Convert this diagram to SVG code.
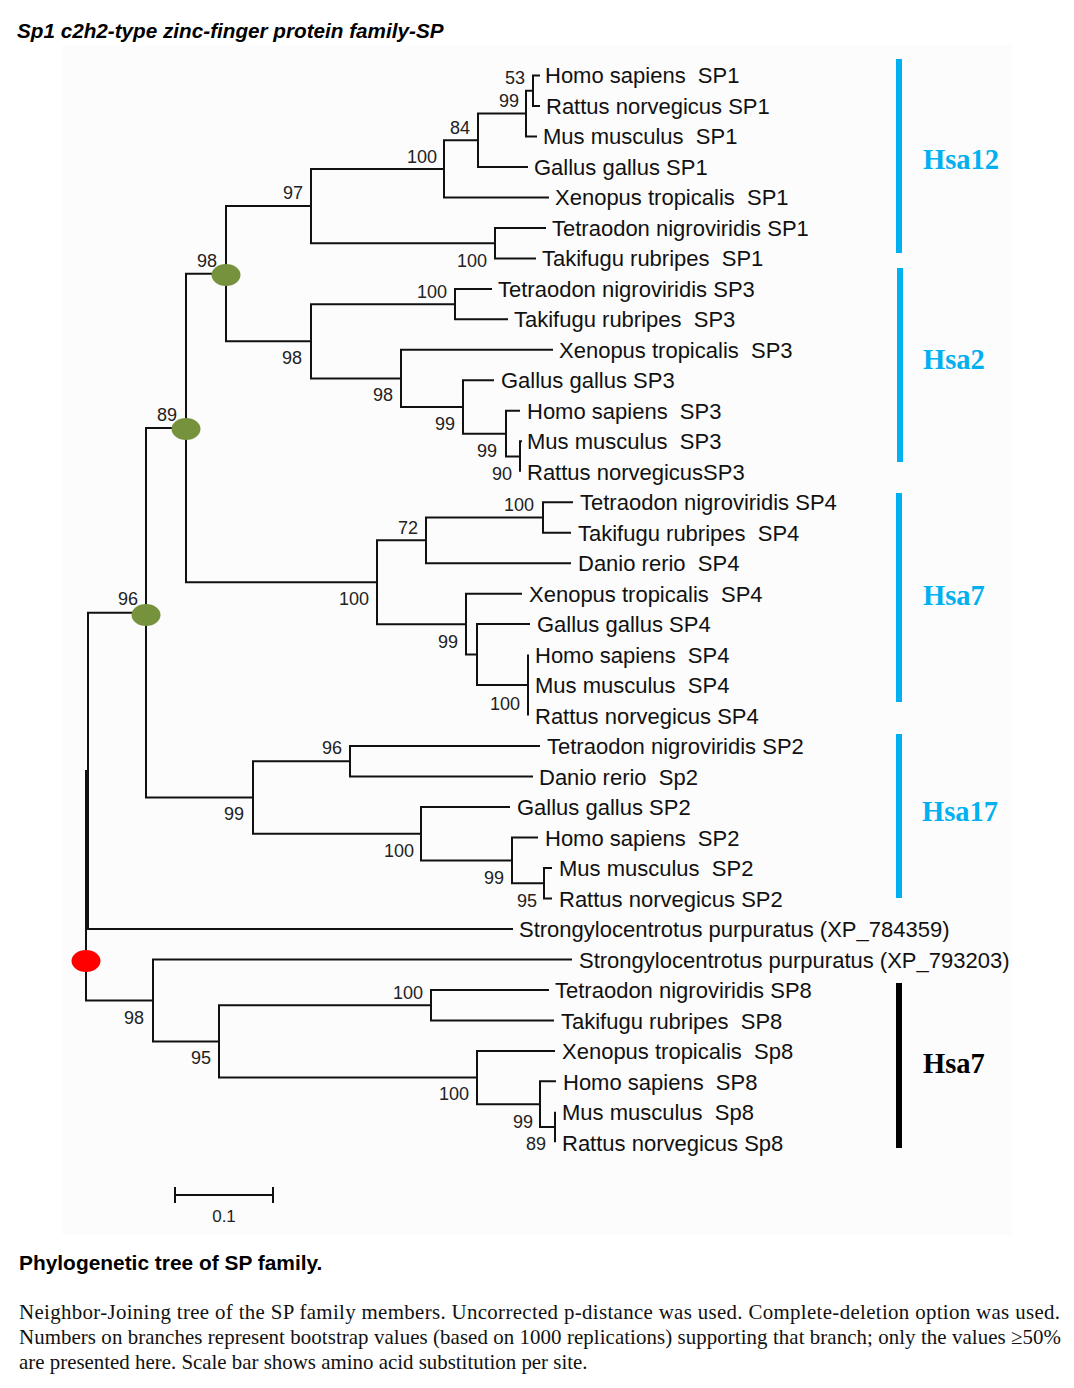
<svg xmlns="http://www.w3.org/2000/svg" width="1074" height="1388" viewBox="0 0 1074 1388">
<style>
.br{fill:none;stroke:#111;stroke-width:2}
.lf{font-family:"Liberation Sans",Arial,sans-serif;font-size:22px;fill:#111;white-space:pre}
.bs{font-family:"Liberation Sans",Arial,sans-serif;font-size:18px;fill:#222;text-anchor:end}
.hsa{font-family:"Liberation Serif","Times New Roman",serif;font-weight:bold;font-size:28.5px}
.blue{fill:#00b0f0}
.gn{fill:#76923c}
.cap{font-family:"Liberation Serif","Times New Roman",serif;font-size:20.9px;fill:#111}
</style>
<rect x="62" y="45" width="950" height="1190" fill="#fcfcfc"/>
<text x="17" y="38" font-family="Liberation Sans, Arial, sans-serif" font-size="20.7" font-weight="bold" font-style="italic" fill="#000">Sp1 c2h2-type zinc-finger protein family-SP</text>

<g id="connectors">
<path class="br" d="M540,75.5 H533 V106 H540"/>
<path class="br" d="M537,136.5 H526 V90.8 H533"/>
<path class="br" d="M528,167 H478 V113.6 H526"/>
<path class="br" d="M549,197.4 H444 V140.3 H478"/>
<path class="br" d="M546,228 H495 V258.4 H536"/>
<path class="br" d="M444,168.9 H311 V243.2 H495"/>
<path class="br" d="M311,206 H226 V341.3 H311"/>
<path class="br" d="M492,289 H455 V319.3 H508"/>
<path class="br" d="M455,304.2 H311 V378.4 H401"/>
<path class="br" d="M553,349.8 H401 V407 H463"/>
<path class="br" d="M494,380.3 H463 V433.7 H506"/>
<path class="br" d="M520,410.8 H506 V456.5 H520"/>
<path class="br" d="M522,441.3 H520 V471.7"/>
<path class="br" d="M226,273.7 H186 V582.3 H377"/>
<path class="br" d="M426,540.3 H377 V624.2 H466"/>
<path class="br" d="M543,517.5 H426 V563.2 H571"/>
<path class="br" d="M573,502.2 H543 V532.7 H571"/>
<path class="br" d="M522,593.7 H466 V654.6 H477"/>
<path class="br" d="M530,624.1 H477 V685.1 H528"/>
<path class="br" d="M528,654.6 V715.6"/>
<path class="br" d="M186,428 H146 V797.5 H253"/>
<path class="br" d="M350,761.3 H253 V833.7 H421"/>
<path class="br" d="M540,746.1 H350 V776.5 H533"/>
<path class="br" d="M510,807 H421 V860.4 H512"/>
<path class="br" d="M538,837.5 H512 V883.3 H544"/>
<path class="br" d="M552,868 H544 V898.5 H552"/>
<path class="br" d="M146,612.8 H88 V929 H513"/>
<path class="br" d="M88,770.9 H86 V1000.4 H153"/>
<path class="br" d="M572,959.4 H153 V1041.4 H219"/>
<path class="br" d="M431,1005.2 H219 V1077.6 H477"/>
<path class="br" d="M549,990 H431 V1020.4 H554"/>
<path class="br" d="M555,1051 H477 V1104.2 H540"/>
<path class="br" d="M556,1081.3 H540 V1127 H555"/>
<path class="br" d="M555,1111.8 V1142.3"/>
</g>

<g id="node-markers">
<ellipse id="node-98-marker" class="gn" cx="226" cy="275" rx="14.5" ry="11"/>
<ellipse id="node-89-marker" class="gn" cx="186" cy="429" rx="14.5" ry="11"/>
<ellipse id="node-96-marker" class="gn" cx="146" cy="615" rx="14.5" ry="11"/>
<ellipse id="root-marker" cx="86" cy="961" rx="14.5" ry="11" fill="#ff0000"/>
</g>

<g id="bootstrap">
<text class="bs" x="525" y="84">53</text>
<text class="bs" x="519" y="107">99</text>
<text class="bs" x="470" y="134">84</text>
<text class="bs" x="437" y="163">100</text>
<text class="bs" x="303" y="199">97</text>
<text class="bs" x="487" y="267">100</text>
<text class="bs" x="217" y="267">98</text>
<text class="bs" x="447" y="298">100</text>
<text class="bs" x="302" y="364">98</text>
<text class="bs" x="393" y="401">98</text>
<text class="bs" x="455" y="430">99</text>
<text class="bs" x="497" y="457">99</text>
<text class="bs" x="512" y="480">90</text>
<text class="bs" x="177" y="421">89</text>
<text class="bs" x="534" y="511">100</text>
<text class="bs" x="418" y="534">72</text>
<text class="bs" x="369" y="605">100</text>
<text class="bs" x="458" y="648">99</text>
<text class="bs" x="520" y="710">100</text>
<text class="bs" x="138" y="605">96</text>
<text class="bs" x="342" y="754">96</text>
<text class="bs" x="244" y="820">99</text>
<text class="bs" x="414" y="857">100</text>
<text class="bs" x="504" y="884">99</text>
<text class="bs" x="537" y="907">95</text>
<text class="bs" x="144" y="1024">98</text>
<text class="bs" x="211" y="1064">95</text>
<text class="bs" x="423" y="999">100</text>
<text class="bs" x="469" y="1100">100</text>
<text class="bs" x="533" y="1128">99</text>
<text class="bs" x="546" y="1150">89</text>
</g>

<g id="leaf-homo-sp1"><text class="lf" x="545" y="83">Homo sapiens  SP1</text></g>
<g id="leaf-rattus-sp1"><text class="lf" x="546" y="113.5">Rattus norvegicus SP1</text></g>
<g id="leaf-mus-sp1"><text class="lf" x="543" y="144">Mus musculus  SP1</text></g>
<g id="leaf-gallus-sp1"><text class="lf" x="534" y="174.5">Gallus gallus SP1</text></g>
<g id="leaf-xenopus-sp1"><text class="lf" x="555" y="205">Xenopus tropicalis  SP1</text></g>
<g id="leaf-tetraodon-sp1"><text class="lf" x="552" y="235.5">Tetraodon nigroviridis SP1</text></g>
<g id="leaf-takifugu-sp1"><text class="lf" x="542" y="266">Takifugu rubripes  SP1</text></g>
<g id="leaf-tetraodon-sp3"><text class="lf" x="498" y="296.5">Tetraodon nigroviridis SP3</text></g>
<g id="leaf-takifugu-sp3"><text class="lf" x="514" y="327">Takifugu rubripes  SP3</text></g>
<g id="leaf-xenopus-sp3"><text class="lf" x="559" y="357.5">Xenopus tropicalis  SP3</text></g>
<g id="leaf-gallus-sp3"><text class="lf" x="501" y="388">Gallus gallus SP3</text></g>
<g id="leaf-homo-sp3"><text class="lf" x="527" y="418.5">Homo sapiens  SP3</text></g>
<g id="leaf-mus-sp3"><text class="lf" x="527" y="449">Mus musculus  SP3</text></g>
<g id="leaf-rattus-sp3"><text class="lf" x="527" y="479.5">Rattus norvegicusSP3</text></g>
<g id="leaf-tetraodon-sp4"><text class="lf" x="580" y="510">Tetraodon nigroviridis SP4</text></g>
<g id="leaf-takifugu-sp4"><text class="lf" x="578" y="540.5">Takifugu rubripes  SP4</text></g>
<g id="leaf-danio-sp4"><text class="lf" x="578" y="571">Danio rerio  SP4</text></g>
<g id="leaf-xenopus-sp4"><text class="lf" x="529" y="601.5">Xenopus tropicalis  SP4</text></g>
<g id="leaf-gallus-sp4"><text class="lf" x="537" y="632">Gallus gallus SP4</text></g>
<g id="leaf-homo-sp4"><text class="lf" x="535" y="662.5">Homo sapiens  SP4</text></g>
<g id="leaf-mus-sp4"><text class="lf" x="535" y="693">Mus musculus  SP4</text></g>
<g id="leaf-rattus-sp4"><text class="lf" x="535" y="723.5">Rattus norvegicus SP4</text></g>
<g id="leaf-tetraodon-sp2"><text class="lf" x="547" y="754">Tetraodon nigroviridis SP2</text></g>
<g id="leaf-danio-sp2"><text class="lf" x="539" y="784.5">Danio rerio  Sp2</text></g>
<g id="leaf-gallus-sp2"><text class="lf" x="517" y="815">Gallus gallus SP2</text></g>
<g id="leaf-homo-sp2"><text class="lf" x="545" y="845.5">Homo sapiens  SP2</text></g>
<g id="leaf-mus-sp2"><text class="lf" x="559" y="876">Mus musculus  SP2</text></g>
<g id="leaf-rattus-sp2"><text class="lf" x="559" y="906.5">Rattus norvegicus SP2</text></g>
<g id="leaf-strongylo-784359"><text class="lf" x="519" y="937">Strongylocentrotus purpuratus (XP_784359)</text></g>
<g id="leaf-strongylo-793203"><text class="lf" x="579" y="967.5">Strongylocentrotus purpuratus (XP_793203)</text></g>
<g id="leaf-tetraodon-sp8"><text class="lf" x="555" y="998">Tetraodon nigroviridis SP8</text></g>
<g id="leaf-takifugu-sp8"><text class="lf" x="561" y="1028.5">Takifugu rubripes  SP8</text></g>
<g id="leaf-xenopus-sp8"><text class="lf" x="562" y="1059">Xenopus tropicalis  Sp8</text></g>
<g id="leaf-homo-sp8"><text class="lf" x="563" y="1089.5">Homo sapiens  SP8</text></g>
<g id="leaf-mus-sp8"><text class="lf" x="562" y="1120">Mus musculus  Sp8</text></g>
<g id="leaf-rattus-sp8"><text class="lf" x="562" y="1150.5">Rattus norvegicus Sp8</text></g>

<g id="clade-hsa12"><rect class="blue" x="896" y="59" width="6" height="194"/><text class="hsa blue" x="923" y="169">Hsa12</text></g>
<g id="clade-hsa2"><rect class="blue" x="897" y="268" width="6" height="194"/><text class="hsa blue" x="923" y="369">Hsa2</text></g>
<g id="clade-hsa7-sp4"><rect class="blue" x="896" y="493" width="6" height="209"/><text class="hsa blue" x="923" y="605">Hsa7</text></g>
<g id="clade-hsa17"><rect class="blue" x="896" y="734" width="6" height="164"/><text class="hsa blue" x="922" y="821">Hsa17</text></g>
<g id="clade-hsa7-sp8"><rect x="896" y="983" width="6" height="165" fill="#000"/><text class="hsa" x="923" y="1073" fill="#000">Hsa7</text></g>

<g id="scale-bar">
<path class="br" d="M175,1187 V1203 M175,1195 H273 M273,1187 V1203"/>
<text x="224" y="1222" font-family="Liberation Sans, Arial, sans-serif" font-size="17" fill="#222" text-anchor="middle">0.1</text>
</g>

<text x="19" y="1270" font-family="Liberation Sans, Arial, sans-serif" font-size="20.9" font-weight="bold" fill="#000">Phylogenetic tree of SP family.</text>
<text class="cap" x="19" y="1319" textLength="1041" lengthAdjust="spacing">Neighbor-Joining tree of the SP family members. Uncorrected p-distance was used. Complete-deletion option was used.</text>
<text class="cap" x="19" y="1344" textLength="1042" lengthAdjust="spacing">Numbers on branches represent bootstrap values (based on 1000 replications) supporting that branch; only the values ≥50%</text>
<text class="cap" x="19" y="1369">are presented here. Scale bar shows amino acid substitution per site.</text>
</svg>
